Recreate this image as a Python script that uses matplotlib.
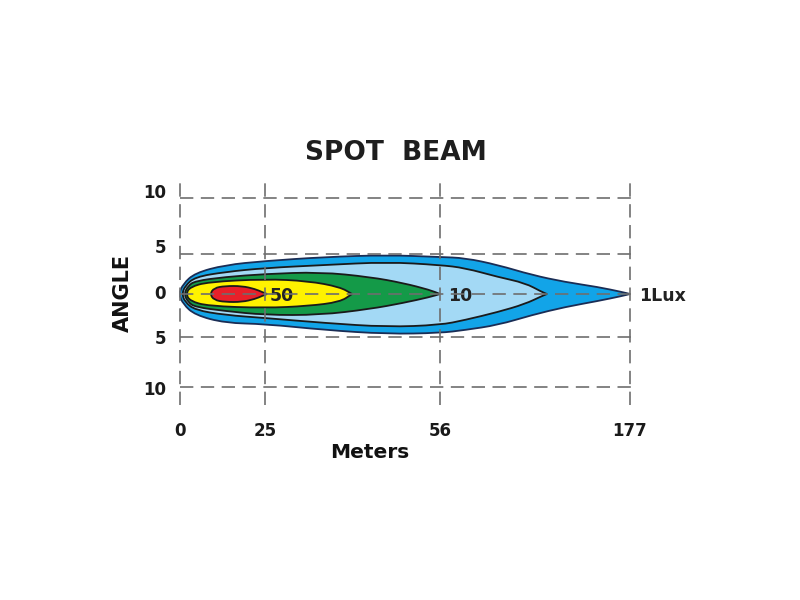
import matplotlib
matplotlib.use('Agg')
import matplotlib.pyplot as plt
from matplotlib.path import Path
from matplotlib.patches import PathPatch

plt.rcParams['font.family'] = ['DejaVu Sans']

# grid positions (chart units) and their labels
x_grid = [0, 85, 260, 450]
x_labels = ['0', '25', '56', '177']
y_grid = [96, 40, 0, -43, -93]
y_labels = ['10', '5', '0', '5', '10']
y_label_shift = [5, 6, 0, -2, -3]  # labels sit a little off their lines

# beam outlines: distance, upper half width, lower half width
blue_x = [-1, 3, 15, 45, 85, 145, 207, 260, 285, 318, 352, 385, 418, 442, 450]
blue_up = [0, 10, 21, 29, 33, 37, 39, 37, 36, 29, 19, 12, 7, 2, 0]
blue_dn = [0, 10, 21, 29, 30, 36, 40, 39, 36, 31, 21, 13, 7, 2, 0]

light_x = [2, 5, 15, 45, 85, 145, 207, 260, 285, 318, 345, 362, 367]
light_up = [0, 8, 17, 22, 26, 29, 32, 29, 26, 17, 11, 2, 0]
light_dn = [0, 8, 16, 21, 24, 29, 33, 31, 26, 18, 10, 2, 0]

green_x = [4, 8, 15, 45, 85, 140, 190, 223, 250, 260]
green_up = [0, 8, 13, 17, 20, 22, 17, 11, 4, 0]
green_dn = [0, 8, 13, 17, 21, 21, 15, 9, 3, 0]

yellow_x = [6, 10, 28, 85, 128, 160, 172]
yellow_up = [0, 7, 12, 15, 13, 7, 0]
yellow_dn = [0, 7, 12, 14, 12, 8, 0]

red_x = [30, 34, 45, 62, 75, 82, 87]
red_up = [0, 6, 8, 8, 5, 2, 0]
red_dn = [0, 6, 8, 8, 5, 2, 0]

lux_labels = ['50', '10', '1Lux']
lux_x = [90, 268, 459]


def beam_path(xs, up, dn):
    # closed outline: along the top, back along the bottom
    pts = [(x, h) for x, h in zip(xs, up)]
    pts += [(x, -h) for x, h in zip(xs[::-1][1:-1], dn[::-1][1:-1])]
    # keep the far tip sharp
    tip = len(xs) - 1
    pts = pts[:tip] + [pts[tip], pts[tip]] + pts[tip + 1:]
    n = len(pts)
    mids = [((pts[i][0] + pts[(i + 1) % n][0]) / 2, (pts[i][1] + pts[(i + 1) % n][1]) / 2)
            for i in range(n)]
    verts = [mids[-1]]
    codes = [Path.MOVETO]
    for i in range(n):
        verts += [pts[i], mids[i]]
        codes += [Path.CURVE3, Path.CURVE3]
    verts.append(mids[-1])
    codes.append(Path.CLOSEPOLY)
    return Path(verts, codes)


fig = plt.figure(figsize=(8, 6), dpi=100)
ax = fig.add_axes([178 / 800, 1 - 405 / 600, 454 / 800, 224 / 600])
ax.set_xlim(-2, 452)
ax.set_ylim(-111, 113)

shapes = [
    (blue_x, blue_up, blue_dn, '#12a4e8', '#1a2d55'),
    (light_x, light_up, light_dn, '#a3d9f5', '#1a1a1a'),
    (green_x, green_up, green_dn, '#149a48', '#1a1a1a'),
    (yellow_x, yellow_up, yellow_dn, '#fff200', '#1a1a1a'),
    (red_x, red_up, red_dn, '#e8202a', '#1a1a1a'),
]
for i, (xs, up, dn, fc, ec) in enumerate(shapes):
    ax.add_patch(PathPatch(beam_path(xs, up, dn), facecolor=fc, edgecolor=ec,
                           lw=1.3, zorder=2 + i, clip_on=False))

dash = (0, (8, 4.5))
ax.hlines(y_grid, 0, 452, colors='#6e6e6e', lw=1.2, linestyles=[dash], zorder=10)
ax.vlines(x_grid, -111, 113, colors='#6e6e6e', lw=1.2, linestyles=[dash], zorder=10)

for lab, x in zip(lux_labels, lux_x):
    ax.text(x, -2, lab, fontsize=12.5, fontweight='bold', color='#222222',
            ha='left', va='center', zorder=9, clip_on=False)

# y labels as text so they can sit slightly off the lines
for lab, y, dy in zip(y_labels, y_grid, y_label_shift):
    ax.annotate(lab, xy=(0, y), xytext=(-10, dy * 0.72), textcoords='offset points',
                ha='right', va='center', fontsize=12, fontweight='bold', color='#1a1a1a',
                annotation_clip=False)
ax.set_yticks([])

ax.set_xticks(x_grid, x_labels)
ax.tick_params(length=0, labelsize=12, labelcolor='#1a1a1a')
ax.tick_params(axis='x', pad=12)
for lab in ax.get_xticklabels():
    lab.set_fontweight('bold')
for s in ax.spines.values():
    s.set_visible(False)
ax.set_facecolor('none')

fig.text(396 / 800, 1 - 153 / 600, 'SPOT  BEAM', fontsize=19, fontweight='bold',
         color='#1e1e1e', ha='center', va='center')
fig.text(123 / 800, 1 - 293 / 600, 'ANGLE', fontsize=15, fontweight='bold',
         color='#111111', ha='center', va='center', rotation=90)
fig.text(370 / 800, 1 - 453 / 600, 'Meters', fontsize=14.5, fontweight='bold',
         color='#111111', ha='center', va='center')

fig.savefig('out.png', dpi=100)
